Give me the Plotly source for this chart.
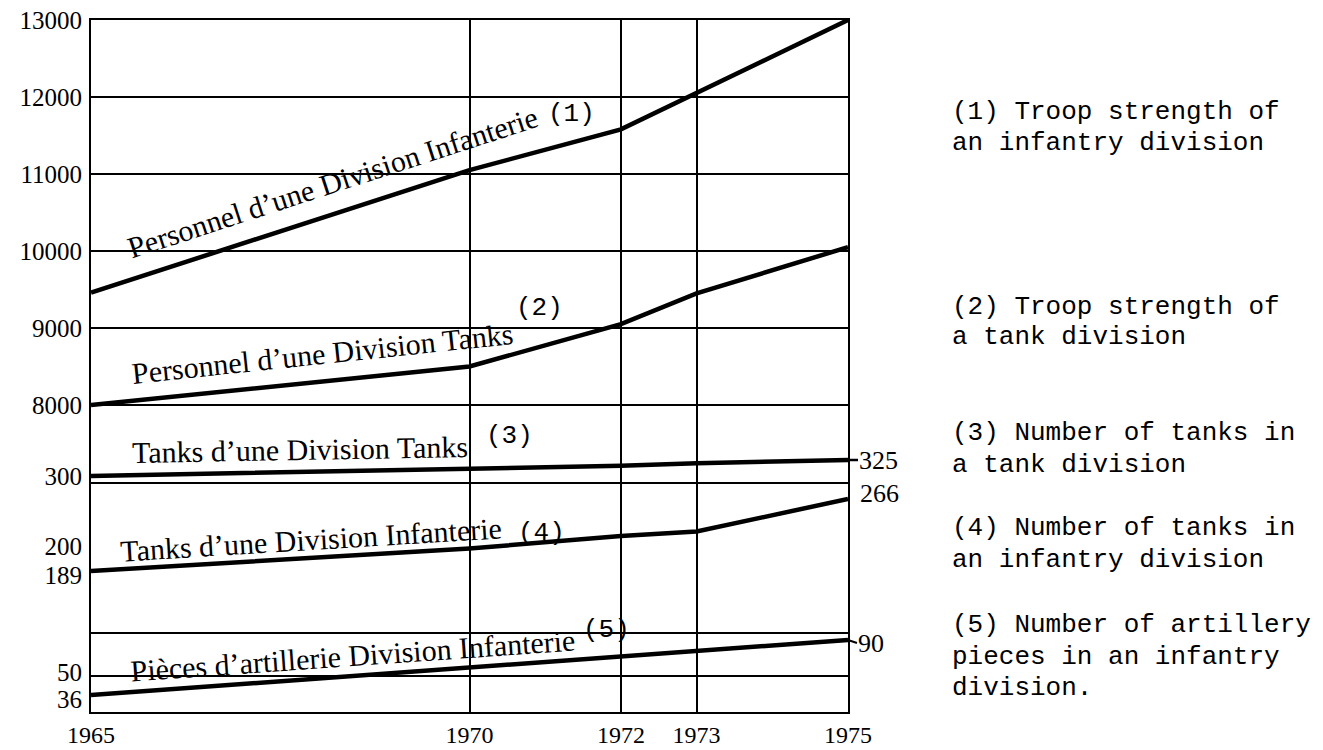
import numpy as np
import plotly.graph_objects as go

# ---------------- data ----------------
YEARS = [1965, 1970, 1972, 1973, 1975]
PERS_INF = [9460, 11050, 11580, 12050, 13000]      # (1) troop strength, infantry division
PERS_TANK = [8000, 8500, 9050, 9450, 10050]        # (2) troop strength, tank division
TANKS_TANK_DIV = [300, 311, 316, 320, 325]         # (3) tanks in a tank division
TANKS_INF_DIV = [189, 202, 218, 224, 266]          # (4) tanks in an infantry division
ARTY_INF_DIV = [36, 59, 72, 78, 90]                # (5) artillery pieces, infantry division

X_TICKS = [1965, 1970, 1972, 1973, 1975]
Y_TICK_VALUES = [13000, 12000, 11000, 10000, 9000, 8000, 300, 200, 189, 50, 36]
Y_TICK_LABELS = ["13000", "12000", "11000", "10000", "9000", "8000", "300", "200", "189", "50", "36"]
GRID_VALUES = [13000, 12000, 11000, 10000, 9000, 8000, 290, 100, 50]
END_VALUES = [325, 266, 90]

LINE_LABELS = [
    "Personnel d\u2019une Division Infanterie",
    "Personnel d\u2019une Division Tanks",
    "Tanks d\u2019une Division Tanks",
    "Tanks d\u2019une Division Infanterie",
    "Pi\u00e8ces d\u2019artillerie Division Infanterie",
]
NUM_LABELS = ["(1)", "(2)", "(3)", "(4)", "(5)"]
LEGEND_LINES = [
    "(1) Troop strength of", "an infantry division",
    "(2) Troop strength of", "a tank division",
    "(3) Number of tanks in", "a tank division",
    "(4) Number of tanks in", "an infantry division",
    "(5) Number of artillery", "pieces in an infantry", "division.",
]

# ---------------- broken (piecewise) vertical scale ----------------
# breakpoints of the hand-drawn broken axis: value -> axis position units
SCALE_VALUES = [36, 50, 90, 189, 200, 266, 300, 325, 8000, 13000]
SCALE_POS = [17, 36, 72, 141, 162, 213, 236, 252, 307, 692]


def S(v):
    return np.interp(np.asarray(v, dtype=float), SCALE_VALUES, SCALE_POS)


# small vertical nudges (axis units = px) so the crowded labels do not collide
Y_LABEL_NUDGE = [0, 0, 0, 0, 0, 0, 0, 4, -4, 4, -4]

# ---------------- layout geometry ----------------
W, H = 1323, 750
L, R, T, B = 91, 475, 20, 38
PW, PH = W - L - R, H - T - B


def paper(xpx, ypx):
    return (xpx - L) / PW, (H - B - ypx) / PH


SERIF = "Liberation Serif"
MONO = "Liberation Mono"

fig = go.Figure()
series = [PERS_INF, PERS_TANK, TANKS_TANK_DIV, TANKS_INF_DIV, ARTY_INF_DIV]
for name, vals in zip(LINE_LABELS, series):
    fig.add_trace(go.Scatter(
        x=YEARS, y=S(vals), customdata=vals, name=name, mode="lines",
        line=dict(color="black", width=4.5),
        hovertemplate="%{x}: %{customdata}<extra>" + name + "</extra>",
        showlegend=False,
    ))

annotations = []
# labels along the lines
label_pos = [(332, 182, -18), (322, 354, -6), (300, 449, -1), (311, 539, -3.5), (353, 655, -4)]
num_pos = [(571, 114), (539, 308), (509, 436), (541, 533), (606, 630)]
for text, (xp, yp, ang) in zip(LINE_LABELS, label_pos):
    px_, py_ = paper(xp, yp)
    annotations.append(dict(x=px_, y=py_, xref="paper", yref="paper", text=text,
                            showarrow=False, textangle=ang, xanchor="center", yanchor="middle",
                            font=dict(family=SERIF, size=30, color="black")))
for text, (xp, yp) in zip(NUM_LABELS, num_pos):
    px_, py_ = paper(xp, yp)
    annotations.append(dict(x=px_, y=py_, xref="paper", yref="paper", text=text,
                            showarrow=False, xanchor="center", yanchor="middle",
                            font=dict(family=MONO, size=26, color="black")))

# end-value labels at 1975
annotations.append(dict(x=1975, y=float(S(END_VALUES[0])), xref="x", yref="y", text=str(END_VALUES[0]),
                        showarrow=True, arrowhead=0, arrowwidth=2.5, arrowcolor="black",
                        ax=10, ay=0, xanchor="left", yanchor="middle", standoff=0, borderpad=0,
                        font=dict(family=SERIF, size=26, color="black")))
annotations.append(dict(x=1975, y=float(S(END_VALUES[1])), xref="x", yref="y", text=str(END_VALUES[1]),
                        showarrow=False, xanchor="left", yanchor="middle", xshift=10, yshift=6,
                        font=dict(family=SERIF, size=26, color="black")))
annotations.append(dict(x=1975, y=float(S(END_VALUES[2])), xref="x", yref="y", text=str(END_VALUES[2]),
                        showarrow=True, arrowhead=0, arrowwidth=2, arrowcolor="black",
                        ax=9, ay=3, xanchor="left", yanchor="middle", standoff=0, borderpad=0,
                        font=dict(family=SERIF, size=26, color="black")))

# right-hand explanatory notes
legend_y = [112, 143, 307, 337, 433, 465, 528, 560, 625, 657, 688]
for text, yp in zip(LEGEND_LINES, legend_y):
    px_, py_ = paper(950, yp)
    annotations.append(dict(x=px_, y=py_, xref="paper", yref="paper", text=text,
                            showarrow=False, xanchor="left", yanchor="middle",
                            font=dict(family=MONO, size=26, color="black")))

y_range = [0, 692]
label_positions = [float(p) + n for p, n in zip(S(Y_TICK_VALUES), Y_LABEL_NUDGE)]
fig.update_layout(
    width=W, height=H, autosize=False,
    margin=dict(l=L, r=R, t=T, b=B, pad=0),
    paper_bgcolor="white", plot_bgcolor="white",
    annotations=annotations,
    xaxis=dict(range=[1965, 1975], tickvals=X_TICKS, ticktext=[str(v) for v in X_TICKS],
               showgrid=True, gridcolor="black", gridwidth=1.6,
               showline=True, linecolor="black", linewidth=2, mirror=True,
               ticks="", ticklabelstandoff=0, zeroline=False, automargin=False,
               tickfont=dict(family=SERIF, size=24, color="black")),
    yaxis=dict(range=y_range, tickvals=list(S(GRID_VALUES)), showticklabels=False,
               showgrid=True, gridcolor="black", gridwidth=1.6,
               showline=True, linecolor="black", linewidth=2, mirror=True,
               ticks="", zeroline=False, automargin=False),
    yaxis2=dict(range=y_range, overlaying="y", side="left",
                tickvals=label_positions, ticktext=Y_TICK_LABELS,
                showgrid=False, showline=False, zeroline=False, ticks="",
                ticklabelstandoff=8, automargin=False,
                tickfont=dict(family=SERIF, size=25, color="black")),
)
# a transparent helper trace so the label axis is drawn
fig.add_trace(go.Scatter(x=[1965], y=[0], yaxis="y2", mode="markers",
                         marker=dict(opacity=0), showlegend=False, hoverinfo="skip"))

fig.write_html("out.html", config={"displayModeBar": False},
               post_script="document.body.style.margin='0';document.body.style.overflow='hidden';")
